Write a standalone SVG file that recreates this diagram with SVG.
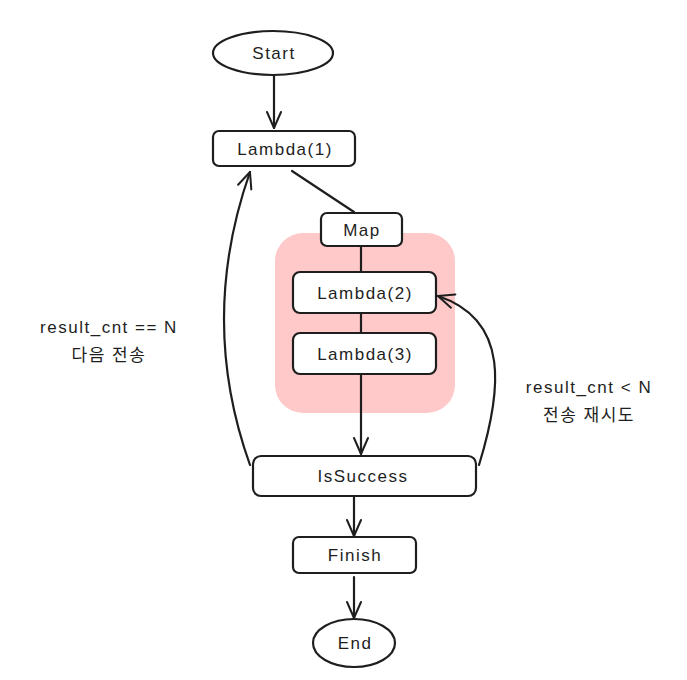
<svg xmlns="http://www.w3.org/2000/svg" width="687" height="680" viewBox="0 0 687 680">
<defs>
<marker id="arr" viewBox="0 0 20 20" refX="18" refY="10" markerWidth="20" markerHeight="20" markerUnits="userSpaceOnUse" orient="auto">
<path d="M2,3 L18,10 L2,17" fill="none" stroke="#1e1e1e" stroke-width="2" stroke-linecap="round" stroke-linejoin="round"/>
</marker>
<style>
.n{fill:#ffffff;stroke:#1e1e1e;stroke-width:2.2}
.t{font-family:"Liberation Sans","Noto Sans CJK KR",sans-serif;font-size:17px;letter-spacing:1.5px;fill:#1e1e1e;text-anchor:middle;dominant-baseline:central}
.c{fill:none;stroke:#1e1e1e;stroke-width:2.2;stroke-linecap:round}
</style>
</defs>
<rect x="275" y="233" width="180" height="180" rx="28" fill="#ffc9c9"/>
<g id="connectors">
<line class="c" x1="274" y1="71" x2="274" y2="128" marker-end="url(#arr)"/>
<line class="c" x1="292" y1="171" x2="354" y2="212"/>
<line class="c" x1="361" y1="247" x2="361" y2="272"/>
<line class="c" x1="361" y1="313" x2="361" y2="333"/>
<line class="c" x1="361" y1="374" x2="361" y2="454" marker-end="url(#arr)"/>
<line class="c" x1="354" y1="497" x2="354" y2="536" marker-end="url(#arr)"/>
<line class="c" x1="354" y1="577" x2="354" y2="618" marker-end="url(#arr)"/>
<path class="c" d="M250,465 Q198,320 250,172" marker-end="url(#arr)"/>
<path class="c" d="M479,465 C502,390 510,320 438,296" marker-end="url(#arr)"/>
</g>
<g id="start"><ellipse class="n" cx="273" cy="53" rx="60" ry="22"/><text class="t" x="274" y="53">Start</text></g>
<g id="lambda1"><rect class="n" x="213" y="131" width="142" height="35" rx="6"/><text class="t" x="285" y="149">Lambda(1)</text></g>
<g id="map"><rect class="n" x="321" y="213" width="81" height="33" rx="6"/><text class="t" x="362" y="230">Map</text></g>
<g id="lambda2"><rect class="n" x="293" y="272" width="143" height="41" rx="7"/><text class="t" x="365" y="293">Lambda(2)</text></g>
<g id="lambda3"><rect class="n" x="293" y="333" width="143" height="41" rx="7"/><text class="t" x="365" y="354">Lambda(3)</text></g>
<g id="issuccess"><rect class="n" x="253" y="456" width="223" height="40" rx="8"/><text class="t" x="363" y="476">IsSuccess</text></g>
<g id="finish"><rect class="n" x="293" y="537" width="123" height="36" rx="6"/><text class="t" x="355" y="555">Finish</text></g>
<g id="end"><ellipse class="n" cx="354" cy="643" rx="41" ry="24"/><text class="t" x="355" y="643">End</text></g>
<g id="label-left"><text class="t" x="109" y="327">result_cnt == N</text><text class="t" x="109" y="355">다음 전송</text></g>
<g id="label-right"><text class="t" x="589" y="387">result_cnt &lt; N</text><text class="t" x="589" y="415">전송 재시도</text></g>
</svg>
